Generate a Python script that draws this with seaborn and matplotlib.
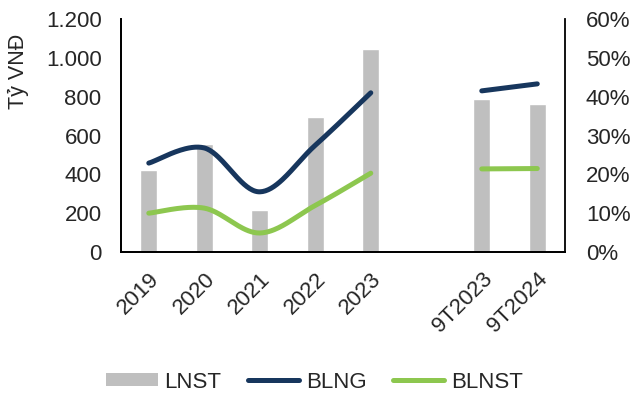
import numpy as np
import pandas as pd
import matplotlib
matplotlib.use("Agg")
import matplotlib.pyplot as plt
from matplotlib.patches import Patch
from matplotlib.lines import Line2D
from matplotlib.ticker import FuncFormatter, MultipleLocator
import seaborn as sns

# Net profit (billion VND) and margins per period; "" is a spacer column
periods = ["2019", "2020", "2021", "2022", "2023", "", "9T2023", "9T2024"]
lnst = [422, 556, 216, 695, 1045, np.nan, 788, 762]
blng = [0.229, 0.268, 0.155, 0.275, 0.410, np.nan, 0.415, 0.433]
blnst = [0.100, 0.113, 0.049, 0.120, 0.203, np.nan, 0.214, 0.215]

GRAY = "#BFBFBF"
NAVY = "#17365D"
GREEN = "#8DC74F"
FS = 16
LW = 3.6

sns.set_style("white")
plt.rcParams["font.family"] = ["Liberation Sans", "DejaVu Sans"]


def smooth_segments(xs, ys, n=40):
    """Bezier smoothing of each non-NaN run, like spreadsheet 'smoothed line'."""
    xs = np.asarray(xs, float)
    ys = np.asarray(ys, float)
    runs, cur = [], []
    for i, v in enumerate(ys):
        if np.isnan(v):
            if cur:
                runs.append(cur)
            cur = []
        else:
            cur.append(i)
    if cur:
        runs.append(cur)
    out = []
    for run in runs:
        px, py = xs[run], ys[run]
        if len(run) == 1:
            out.append((px, py))
            continue
        cx, cy = [], []
        m = len(run)
        for k in range(m - 1):
            p0 = np.array([px[max(k - 1, 0)], py[max(k - 1, 0)]])
            p1 = np.array([px[k], py[k]])
            p2 = np.array([px[k + 1], py[k + 1]])
            p3 = np.array([px[min(k + 2, m - 1)], py[min(k + 2, m - 1)]])
            c1 = p1 + (p2 - p0) / 6.0
            c2 = p2 - (p3 - p1) / 6.0
            t = np.linspace(0, 1, n)[:, None]
            pts = ((1 - t) ** 3) * p1 + 3 * ((1 - t) ** 2) * t * c1 \
                + 3 * (1 - t) * t ** 2 * c2 + t ** 3 * p2
            cx.extend(pts[:, 0])
            cy.extend(pts[:, 1])
        out.append((np.array(cx), np.array(cy)))
    return out


fig = plt.figure(figsize=(6.35, 3.98), dpi=100)
ax = fig.add_axes([0.1906, 0.3668, 0.6992, 0.5854])

df = pd.DataFrame({"period": periods, "LNST": lnst})
sns.barplot(data=df, x="period", y="LNST", order=periods, color=GRAY,
            width=0.31, saturation=1, ax=ax)

ax.set_ylim(0, 1200)
ax.set_xlim(-0.5, len(periods) - 0.5)
ax.yaxis.set_major_locator(MultipleLocator(200))
ax.yaxis.set_major_formatter(FuncFormatter(lambda v, p: f"{int(v):,}".replace(",", ".")))
ax.set_xlabel("")
ax.set_ylabel("")
fig.text(18 / 635, 1 - 71 / 398, "Tỷ VNĐ", rotation=90, ha="center",
         va="center", fontsize=15.5)
ax.tick_params(axis="y", length=0, labelsize=FS, pad=14)
ax.tick_params(axis="x", length=0, labelsize=FS, pad=12)
for lab in ax.get_xticklabels():
    lab.set_rotation(45)
    lab.set_ha("right")
    lab.set_rotation_mode("anchor")

ax2 = ax.twinx()
xpos = np.arange(len(periods))
for series, color in ((blng, NAVY), (blnst, GREEN)):
    for sx, sy in smooth_segments(xpos, series):
        sns.lineplot(x=sx, y=sy, sort=False, estimator=None, color=color,
                     linewidth=LW, solid_capstyle="round", ax=ax2)
ax2.set_ylim(0, 0.6)
ax2.yaxis.set_major_locator(MultipleLocator(0.1))
ax2.yaxis.set_major_formatter(FuncFormatter(lambda v, p: f"{v * 100:.0f}%"))
ax2.tick_params(axis="y", length=0, labelsize=FS, pad=15)

for a in (ax, ax2):
    a.spines["top"].set_visible(False)
    for s in ("left", "right", "bottom"):
        a.spines[s].set_color("black")
        a.spines[s].set_linewidth(1.3)
ax.spines["right"].set_visible(False)

handles = [
    Patch(facecolor=GRAY, edgecolor="none"),
    Line2D([0], [0], color=NAVY, linewidth=LW, solid_capstyle="round"),
    Line2D([0], [0], color=GREEN, linewidth=LW, solid_capstyle="round"),
]
fig.legend(handles, ["LNST", "BLNG", "BLNST"], loc="center",
           bbox_to_anchor=(314.5 / 635, 1 - 382 / 398), ncol=3, frameon=False,
           fontsize=FS, handlelength=2.3, handleheight=0.55, handletextpad=0.3,
           columnspacing=1.2, borderpad=0)

fig.savefig("out.png", dpi=100)
